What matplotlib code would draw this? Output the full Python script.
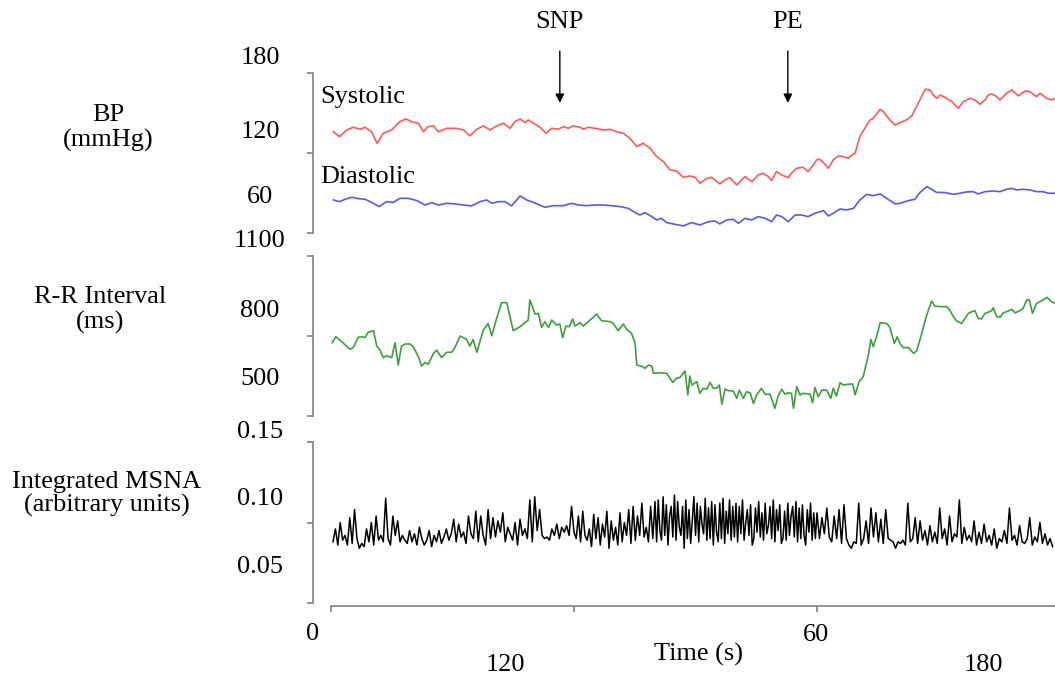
import numpy as np
import matplotlib
matplotlib.use("Agg")
import matplotlib.pyplot as plt

plt.rcParams['font.family'] = ['Liberation Serif', 'DejaVu Serif']
FS = 18.9

# ---------------- data ----------------
sys_t = [0.6, 2.1, 3.9, 5.5, 7.2, 8.4, 10.0, 11.4, 12.9, 15.0, 17.0, 18.5, 19.9, 21.6, 22.8, 24.0,
         25.3, 26.5, 28.6, 31.0, 32.7, 34.3, 36.0, 37.6, 39.3, 40.9, 42.6, 44.2, 45.4, 46.7, 47.9,
         48.7, 50.0, 51.6, 53.1, 54.5, 56.1, 57.4, 58.6, 59.8, 61.5, 62.3, 63.5, 65.2, 67.2, 68.9,
         70.5, 72.2, 73.8, 75.5, 77.1, 78.8, 80.4, 82.1, 83.7, 85.3, 87.0, 88.6, 89.9, 91.1, 92.8,
         94.0, 96.0, 97.3, 98.5, 100.2, 101.4, 102.2, 103.9, 105.5, 106.7, 108.0, 108.8, 110.0,
         111.3, 112.9, 113.7, 115.0, 116.6, 117.8, 119.1, 119.9, 120.7, 121.6, 122.8, 124.0, 125.3,
         126.5, 127.7, 128.6, 129.4, 130.6, 131.8, 133.1, 133.9, 135.6, 136.4, 138.0, 139.3, 140.5,
         142.1, 143.4, 145.0, 146.7, 147.9, 148.7, 149.6, 150.4, 152.0, 153.3, 154.9, 156.1, 157.8,
         159.0, 160.2, 161.5, 162.3, 163.1, 164.4, 165.2, 166.8, 168.1, 169.7, 171.4, 172.6, 174.2,
         175.1, 176.7, 177.9, 178.8]
sys_v = [136.0, 132.3, 137.3, 139.3, 137.8, 139.3, 136.0, 127.3, 134.8, 137.3, 143.5, 145.5, 143.5,
         142.3, 136.0, 139.8, 140.3, 136.0, 138.5, 138.5, 137.3, 132.8, 137.8, 140.3, 137.3, 140.3,
         142.3, 138.5, 143.5, 145.5, 142.8, 144.8, 142.3, 139.3, 134.8, 138.5, 137.8, 139.8, 138.5,
         140.3, 139.3, 137.8, 139.3, 138.5, 137.3, 137.8, 136.0, 134.8, 131.0, 124.8, 127.3, 123.5,
         117.3, 113.5, 107.3, 106.5, 101.8, 102.8, 101.8, 97.3, 101.0, 101.8, 96.8, 99.8, 101.5,
         96.0, 99.8, 102.3, 98.5, 103.5, 104.8, 102.3, 99.3, 106.0, 103.5, 101.5, 104.8, 108.5,
         109.3, 106.0, 111.0, 114.8, 115.3, 112.8, 108.5, 114.8, 117.8, 117.3, 116.0, 118.5, 119.8,
         132.3, 138.5, 144.8, 146.0, 152.8, 151.0, 144.8, 141.0, 142.8, 144.8, 147.8, 157.3, 167.8,
         167.3, 163.5, 161.0, 163.5, 161.0, 158.5, 153.5, 158.5, 161.0, 159.8, 156.5, 159.8, 163.5,
         164.3, 162.3, 159.8, 164.8, 167.3, 162.8, 166.5, 166.0, 162.3, 164.8, 161.0, 159.8, 161.0]

dia_t = [0.6, 2.1, 3.5, 5.1, 6.7, 8.4, 10.0, 11.9, 13.7, 15.4, 17.0, 19.1, 21.2, 23.2, 24.9, 26.5,
         28.6, 30.6, 32.7, 34.7, 36.8, 38.4, 39.7, 41.3, 43.0, 44.6, 46.7, 48.3, 50.0, 52.8, 54.9,
         57.4, 59.4, 61.1, 63.1, 65.2, 67.2, 69.3, 71.4, 73.4, 74.7, 76.3, 77.5, 79.2, 80.4, 81.6,
         82.9, 84.5, 87.0, 89.0, 91.1, 93.2, 94.8, 96.0, 97.7, 99.3, 100.6, 102.2, 103.9, 105.5,
         107.2, 108.8, 110.0, 111.3, 112.9, 114.6, 116.2, 117.8, 119.5, 121.6, 122.8, 124.0, 125.7,
         127.3, 129.0, 130.6, 132.3, 133.9, 135.6, 137.2, 139.3, 140.5, 142.6, 144.2, 145.4, 147.1,
         148.3, 149.5, 151.6, 153.7, 155.3, 156.9, 158.6, 159.8, 161.5, 163.5, 165.2, 166.8, 168.1,
         169.3, 170.9, 172.6, 174.2, 175.8, 177.1, 178.8]
dia_v = [84.8, 83.5, 85.3, 86.8, 85.8, 85.3, 83.0, 79.8, 83.5, 83.0, 86.0, 86.0, 84.3, 81.0, 82.8,
         81.0, 82.3, 81.8, 81.0, 80.3, 83.5, 84.8, 82.3, 83.5, 83.5, 80.3, 87.8, 84.8, 83.0, 79.3,
         80.5, 80.5, 82.3, 81.0, 80.5, 81.0, 81.0, 80.5, 79.8, 78.5, 76.0, 73.5, 75.3, 72.3, 69.8,
         71.0, 67.8, 66.8, 65.3, 67.8, 66.0, 68.5, 69.0, 66.8, 69.8, 70.3, 67.3, 71.0, 69.8, 72.3,
         71.0, 68.5, 73.5, 72.3, 68.5, 73.5, 73.5, 72.3, 74.8, 76.8, 72.8, 74.8, 78.0, 77.3, 78.5,
         84.8, 89.0, 88.0, 89.3, 86.0, 81.8, 82.3, 84.3, 85.3, 90.3, 94.8, 92.8, 90.5, 90.3, 89.0,
         89.8, 90.8, 91.0, 89.3, 91.0, 91.5, 91.0, 92.8, 93.5, 92.3, 92.8, 92.3, 91.0, 91.0, 89.8,
         89.8]

rr_t = [0.3, 1.2, 2.6, 4.7, 5.5, 6.7, 7.6, 8.4, 9.2, 10.5, 11.3, 12.1, 12.9, 13.7, 15.0, 15.8, 16.6,
        17.4, 18.3, 19.5, 20.3, 21.6, 22.4, 23.2, 24.0, 25.3, 26.1, 27.3, 28.6, 29.8, 30.6, 31.9,
        33.5, 34.3, 35.1, 36.0, 37.6, 38.8, 39.7, 40.9, 42.1, 43.4, 45.0, 46.7, 48.7, 49.1, 50.4,
        51.2, 52.0, 52.8, 53.7, 54.5, 55.7, 56.5, 57.2, 58.0, 58.8, 59.7, 60.2, 61.5, 62.3, 64.0,
        65.6, 66.8, 68.9, 69.7, 70.9, 72.2, 73.0, 74.2, 75.1, 75.5, 76.7, 77.5, 78.4, 79.2, 79.6,
        81.2, 82.9, 83.7, 84.4, 85.3, 86.2, 87.4, 88.1, 88.6, 89.1, 90.3, 91.1, 91.9, 92.8, 93.6,
        94.4, 95.2, 95.9, 96.5, 97.3, 98.1, 99.3, 100.2, 100.8, 101.8, 102.6, 103.5, 104.3, 105.1,
        106.3, 107.2, 108.4, 109.6, 110.4, 111.3, 112.1, 112.9, 113.7, 114.2, 115.0, 115.8, 116.6,
        118.3, 118.9, 119.5, 120.3, 121.2, 122.4, 123.4, 124.0, 124.8, 125.7, 126.5, 127.7, 128.8,
        129.4, 130.4, 131.4, 132.7, 133.3, 133.9, 134.7, 135.6, 137.2, 138.0, 139.1, 139.8, 140.5,
        141.3, 142.6, 143.8, 144.6, 145.4, 147.1, 148.3, 149.1, 150.4, 152.0, 152.8, 153.7, 154.5,
        155.7, 157.4, 158.2, 159.0, 159.8, 160.6, 161.5, 163.1, 163.5, 164.4, 165.2, 166.0, 166.8,
        168.1, 168.9, 170.1, 170.9, 171.8, 172.4, 173.2, 174.2, 175.8, 176.8, 177.9, 178.8]
rr_v = [775, 797, 779, 750, 757, 795, 797, 794, 814, 820, 762, 747, 719, 726, 719, 775, 691, 762,
        770, 770, 760, 722, 687, 701, 694, 735, 747, 719, 739, 739, 757, 800, 787, 762, 787, 739,
        822, 847, 801, 866, 925, 925, 820, 835, 860, 935, 882, 885, 832, 854, 832, 860, 841, 845,
        794, 837, 835, 864, 837, 850, 837, 860, 882, 857, 854, 847, 820, 845, 825, 810, 772, 691,
        687, 679, 691, 687, 660, 662, 660, 641, 626, 641, 645, 669, 579, 650, 616, 629, 585, 604,
        601, 626, 604, 604, 616, 544, 601, 595, 594, 566, 597, 566, 591, 587, 547, 579, 604, 581,
        582, 529, 575, 600, 582, 587, 585, 529, 610, 579, 585, 582, 550, 607, 572, 597, 597, 566,
        604, 575, 625, 616, 619, 620, 579, 629, 647, 729, 787, 760, 797, 850, 847, 832, 772, 797,
        772, 756, 757, 735, 744, 785, 879, 931, 912, 910, 910, 897, 872, 856, 847, 885, 891, 895,
        866, 864, 885, 894, 906, 872, 870, 887, 891, 900, 887, 895, 904, 935, 937, 885, 922, 935,
        945, 929, 922]

# integrated MSNA (x 1e-3 arbitrary units), one value per beat, in 20 s segments
msna_seg_start = [0.5, 20, 40, 60, 80, 100, 120, 140, 160]
msna_seg_end = [20, 40, 60, 80, 100, 120, 140, 160, 178.8]
msna_segments = [
    [88, 96, 86, 100, 89, 92, 86, 103, 87, 108, 90, 84, 87, 85, 96, 88, 100, 86, 104, 89, 92, 88, 115,
     90, 86, 104, 92, 101, 88, 92, 89, 87, 95],
    [88, 93, 86, 97, 90, 86, 89, 95, 85, 92, 88, 95, 87, 91, 96, 89, 93, 102, 88, 99, 91, 94, 87, 104,
     93, 90, 107, 88, 104, 92, 86, 108, 90],
    [103, 91, 101, 94, 106, 88, 97, 93, 89, 100, 86, 102, 92, 96, 90, 114, 88, 116, 95, 108, 92, 90,
     91, 89, 96, 92, 99, 90, 97, 94, 98, 92, 110],
    [94, 90, 104, 88, 107, 92, 89, 96, 85, 105, 90, 103, 86, 99, 91, 107, 84, 101, 89, 97, 86, 106, 88,
     100, 92, 108, 87, 110, 89, 104, 92, 112, 91, 97, 88, 110, 90],
    [113, 88, 114, 95, 89, 116, 92, 111, 86, 104, 110, 91, 117, 89, 113, 97, 92, 110, 84, 114, 90, 108,
     87, 101, 116, 92, 112, 88, 110, 99, 93, 115, 89, 109, 90, 113, 86, 111, 94, 88, 112, 90, 115, 87,
     107, 93, 114, 89, 110, 91],
    [112, 88, 110, 93, 114, 89, 100, 108, 92, 111, 86, 90, 109, 94, 113, 91, 106, 89, 112, 93, 98, 110,
     90, 114, 88, 108, 95, 111, 87, 90, 107, 89, 112, 92, 104, 110, 91, 113, 88, 109, 90, 111, 92, 86,
     108, 94, 112, 89, 106, 90],
    [106, 90, 103, 93, 109, 91, 88, 104, 90, 108, 87, 111, 90, 86, 84, 88, 87, 112, 86, 90, 101, 87,
     109, 91, 106, 88, 102, 87, 108, 90, 89, 88, 84],
    [88, 87, 89, 86, 112, 88, 90, 103, 87, 101, 89, 95, 86, 98, 88, 94, 87, 109, 90, 96, 86, 104, 88,
     93, 91, 114, 87, 97, 89, 92, 88, 101, 86],
    [94, 87, 99, 88, 92, 86, 96, 84, 90, 88, 95, 87, 109, 89, 92, 86, 98, 88, 87, 90, 103, 86, 91, 88,
     100, 87, 93, 86, 90, 85]]

msna_t = np.concatenate([np.linspace(a, b, len(seg), endpoint=False)
                         for a, b, seg in zip(msna_seg_start, msna_seg_end, msna_segments)])
msna_v = np.concatenate([np.array(seg) for seg in msna_segments]) / 1000.0

events = ['SNP', 'PE']
event_t = [56.5, 112.8]

bp_ticks = [60, 120, 180]
rr_ticks = [500, 800, 1100]
msna_ticks = [0.05, 0.10, 0.15]
time_ticks = [0, 60, 120, 180]

# ---------------- layout ----------------
W, H = 1055, 677
fig = plt.figure(figsize=(W / 100, H / 100), dpi=100)

def px_axes(top, bottom):
    left = 313
    right = 1060
    return fig.add_axes([left / W, 1 - bottom / H, (right - left) / W, (bottom - top) / H])

XLIM = (-18 / 4.05, 180)
SPINE_C = '#8a8a8a'

def style(ax, ticks, ylim):
    ax.set_xlim(*XLIM)
    ax.set_ylim(*ylim)
    for s in ['top', 'right', 'bottom']:
        ax.spines[s].set_visible(False)
    ax.spines['left'].set_color(SPINE_C)
    ax.spines['left'].set_linewidth(1.3)
    ax.set_yticks(ticks)
    ax.set_yticklabels([])
    ax.tick_params(axis='y', direction='out', length=4, width=1.3, color=SPINE_C)
    ax.set_xticks([])
    ax.patch.set_visible(False)

ax1 = px_axes(73, 233)
style(ax1, bp_ticks, (60, 180))
ax1.plot(sys_t, sys_v, color='#ff5a5a', lw=1.2)
ax1.plot(dia_t, dia_v, color='#5a5ae0', lw=1.2)

ax2 = px_axes(256, 416)
style(ax2, rr_ticks, (500, 1100))
ax2.plot(rr_t, rr_v, color='#3f9f3f', lw=1.2)

ax3 = px_axes(442, 603)
style(ax3, msna_ticks, (0.05, 0.15))
ax3.plot(msna_t, msna_v, color='black', lw=1.1)
ax3.spines['bottom'].set_visible(True)
ax3.spines['bottom'].set_bounds(0, 180)
ax3.spines['bottom'].set_position(('outward', 2))
ax3.spines['bottom'].set_color(SPINE_C)
ax3.spines['bottom'].set_linewidth(1.3)
ax3.set_xticks(time_ticks)
ax3.set_xticklabels([])
ax3.tick_params(axis='x', direction='out', length=4, width=1.3, color=SPINE_C)

# event arrows
for name, t in zip(events, event_t):
    ax1.annotate('', xy=(t, 155.5), xytext=(t, 198.5),
                 arrowprops=dict(arrowstyle='-|>', color='black', lw=1.0, mutation_scale=13),
                 annotation_clip=False)
    ax1.text(t, 218, name, ha='center', va='center', fontsize=FS, clip_on=False)

def ftext(x, y, s, **kw):
    kw.setdefault('ha', 'center')
    kw.setdefault('va', 'center')
    fig.text(x / W, 1 - y / H, s, fontsize=FS, **kw)

ftext(320, 97, 'Systolic', ha='left')
ftext(320, 177, 'Diastolic', ha='left')

ftext(108, 128, 'BP\n(mmHg)', linespacing=1.15)
ftext(100, 310, 'R-R Interval\n(ms)', linespacing=1.15)
ftext(107, 494, 'Integrated MSNA\n(arbitrary units)', linespacing=1.05)

ytick_text = [('180', 58), ('120', 132), ('60', 197), ('1100', 241),
              ('800', 311), ('500', 379), ('0.15', 432), ('0.10', 499), ('0.05', 567)]
for s, y in ytick_text:
    ftext(260, y, s)

ftext(313, 634, '0')
ftext(505, 665, '120')
ftext(816, 635, '60')
ftext(983, 665, '180')
ftext(698, 654, 'Time (s)')

fig.savefig('out.png', dpi=100)
